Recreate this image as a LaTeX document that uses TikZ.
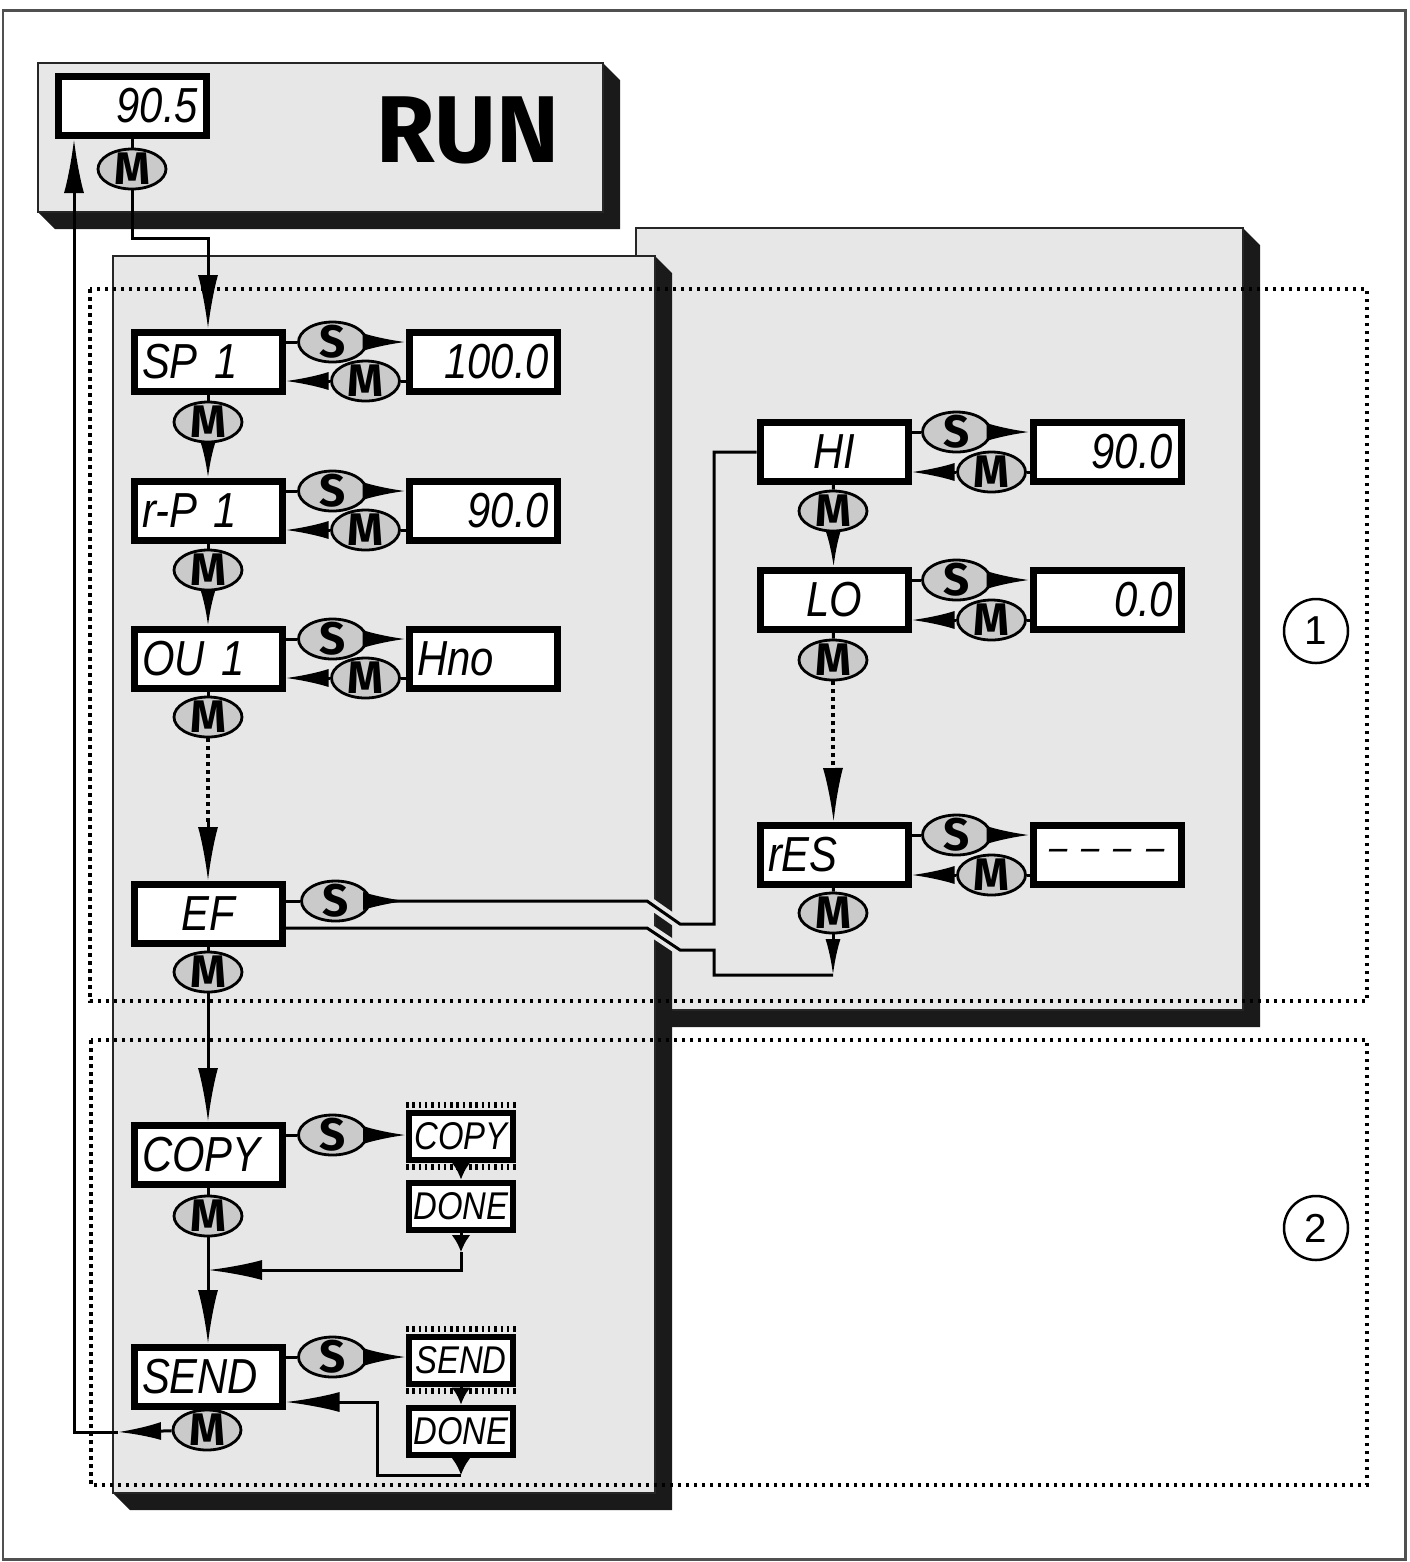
\documentclass[tikz,border=0pt]{standalone}
\usepackage{fontspec}
\usepackage{tikz}
\usetikzlibrary{positioning, shapes.geometric, arrows.meta}
\newfontfamily\lcdfont{Liberation Sans}[FakeStretch=0.85]
\newfontfamily\keyfont{Fira Sans}
\newfontfamily\numfont{Liberation Sans}
\definecolor{panelgray}{RGB}{231,231,231}
\definecolor{keygray}{RGB}{202,202,202}
\definecolor{shadowgray}{RGB}{26,26,26}
\definecolor{framegray}{RGB}{80,80,80}

\begin{document}
\begin{tikzpicture}[
    x=0.1mm, y=-0.1mm,
    line width=0.3mm,
    lcd/.style={draw, line width=0.7mm, fill=white, text width=13.2mm,
                minimum height=5.9mm, inner sep=0.8mm, align=left,
                font=\lcdfont\itshape\fontsize{14}{14}\selectfont},
    lcdval/.style={lcd, align=right},
    lcdmid/.style={lcd, align=center},
    flash/.style={draw, line width=0.6mm, fill=white, minimum width=10.4mm,
                  minimum height=4.7mm, inner sep=0.4mm,
                  font=\lcdfont\itshape\fontsize{11}{11}\selectfont},
    key/.style={ellipse, draw, line width=0.28mm, fill=keygray,
                minimum width=6.8mm, minimum height=4mm,
                text height=3.1mm, text depth=0pt, inner xsep=0pt, inner ysep=-0.7mm,
                font=\keyfont\bfseries\fontsize{13}{13}\selectfont},
    zonenum/.style={circle, draw, line width=0.25mm, minimum size=6.4mm,
                    inner sep=0pt, font=\numfont\fontsize{11.5}{11.5}\selectfont},
    panel/.style={fill=panelgray, draw=black!85, line width=0.25mm},
    shadow/.style={fill=shadowgray},
    dots/.style={line width=0.35mm, dash pattern=on 0.35mm off 0.45mm},
    teeth/.style={line width=0.55mm, dash pattern=on 0.25mm off 0.38mm},
    gap/.style={draw=panelgray, line width=1.1mm},
    wedge/.style={-{Latex[length=4.3mm, width=1.8mm]}},
    drop/.style={-{Latex[length=3.6mm, width=1.5mm]}},
    flow/.style={-{Latex[length=5.4mm, width=2mm]}},
    tick/.style={-{Latex[length=1.7mm, width=1.9mm]}},
  ]
  \useasboundingbox (0,0) rectangle (1409,1562);
  \draw[framegray, line width=0.3mm] (3,10) rectangle (1405,1559);

  % panels
  \fill[shadow] (603,63) -- (620,80) -- (620,229) -- (55,229) -- (38,212) -- cycle;
  \filldraw[panel] (38,63) rectangle (603,212);
  \fill[shadow] (1243,228) -- (1260,245) -- (1260,1027) -- (653,1027) -- (636,1010) -- cycle;
  \filldraw[panel] (636,228) rectangle (1243,1010);
  \fill[shadow] (655,256) -- (672,273) -- (672,1510) -- (130,1510) -- (113,1493) -- cycle;
  \filldraw[panel] (113,256) rectangle (655,1493);

  \draw[dots] (90,289) rectangle (1367,1001);
  \draw[dots] (91,1040) rectangle (1367,1485);
  \node[zonenum] (zone1) at (1316,631) {1};
  \node[zonenum] (zone2) at (1316,1228) {2};

  % RUN
  \node[lcdval] (disp) at (132,106) {90.5};
  \node[font=\keyfont\bfseries\fontsize{27}{27}\selectfont] (run) at (468,130) {RUN};
  \node[key] (runnext) at (132,169) {M};
  \coordinate (runbend) at (132,238);

  % left column
  \node[lcd] (sp1) at (208,362) {SP 1};
  \node[lcdval] (sp1val) at (483,362) {100.0};
  \node[key] (sp1s) at ([xshift=4.7mm, yshift=2mm]sp1.east) {S};
  \node[key] (sp1m) at ([xshift=8mm, yshift=-1.9mm]sp1.east) {M};
  \node[key] (sp1next) at (208,422) {M};

  \node[lcd] (rp1) at (208,511) {r-P 1};
  \node[lcdval] (rp1val) at (483,511) {90.0};
  \node[key] (rp1s) at ([xshift=4.7mm, yshift=2mm]rp1.east) {S};
  \node[key] (rp1m) at ([xshift=8mm, yshift=-1.9mm]rp1.east) {M};
  \node[key] (rp1next) at (208,570) {M};

  \node[lcd] (ou1) at (208,659) {OU 1};
  \node[lcd] (ou1val) at (483,659) {Hno};
  \node[key] (ou1s) at ([xshift=4.7mm, yshift=2mm]ou1.east) {S};
  \node[key] (ou1m) at ([xshift=8mm, yshift=-1.9mm]ou1.east) {M};
  \node[key] (ou1next) at (208,717) {M};
  \coordinate (ou1dots) at (208,822);

  \node[lcdmid] (ef) at (208,914) {EF};
  \node[key] (efs) at ([xshift=5mm, yshift=1.3mm]ef.east) {S};
  \node[key] (efnext) at (208,972) {M};
  \coordinate (efa) at (406,901);
  \coordinate (efb) at (647,901);
  \coordinate (efc) at (680,924);
  \coordinate (efd) at (714,924);
  \coordinate (efe) at (647,928);
  \coordinate (eff) at (680,950);
  \coordinate (efg) at (714,950);
  \coordinate (efh) at (714,975);
  \coordinate (efi) at (833,975);

  \node[lcd] (copy) at (208,1155) {COPY};
  \node[key] (copys) at ([xshift=4.7mm, yshift=2mm]copy.east) {S};
  \node[flash] (copyflash) at (461,1136) {COPY};
  \node[flash] (copydone) at (461,1206) {DONE};
  \node[key] (copynext) at (208,1216) {M};
  \coordinate (copytip) at (461,1252);
  \coordinate (copyback) at (461,1270);

  \node[lcd] (send) at (208,1377) {SEND};
  \node[key] (sends) at ([xshift=4.7mm, yshift=2mm]send.east) {S};
  \node[flash] (sendflash) at (461,1360) {SEND};
  \node[flash] (senddone) at (461,1431) {DONE};
  \node[key] (sendnext) at (207,1430) {M};
  \coordinate (sendtip) at (461,1475);
  \coordinate (sendb) at (377,1475);
  \coordinate (sendc) at (377,1402);
  \coordinate (backa) at (118,1432);
  \coordinate (backb) at (74,1432);

  % right column
  \node[lcdmid] (hi) at (834,452) {HI};
  \node[lcdval] (hival) at (1107,452) {90.0};
  \node[key] (his) at ([xshift=4.5mm, yshift=2mm]hi.east) {S};
  \node[key] (him) at ([xshift=8mm, yshift=-2mm]hi.east) {M};
  \node[key] (hinext) at (833,511) {M};

  \node[lcdmid] (lo) at (834,600) {LO};
  \node[lcdval] (loval) at (1107,600) {0.0};
  \node[key] (los) at ([xshift=4.5mm, yshift=2mm]lo.east) {S};
  \node[key] (lom) at ([xshift=8mm, yshift=-2mm]lo.east) {M};
  \node[key] (lonext) at (833,660) {M};
  \coordinate (lodots) at (833,768);

  \node[lcd] (res) at (834,855) {rES};
  \node[lcdmid] (resval) at (1107,855) {\fontsize{11}{11}\selectfont\mbox{–\hspace{1.4mm}–\hspace{1.4mm}–\hspace{1.4mm}–}};
  \node[key] (ress) at ([xshift=4.5mm, yshift=2mm]res.east) {S};
  \node[key] (resm) at ([xshift=8mm, yshift=-2mm]res.east) {M};
  \node[key] (resnext) at (833,913) {M};

  % connectors
  \draw (disp) -- (runnext);
  \draw[flow] (runnext) -- (runbend) -| (sp1);

  \draw (sp1.east |- sp1s) -- (sp1s);
  \draw[wedge] (sp1s) -- (sp1val.west |- sp1s);
  \draw (sp1val.west |- sp1m) -- (sp1m);
  \draw[wedge] (sp1m) -- (sp1.east |- sp1m);
  \draw (sp1) -- (sp1next);
  \draw[drop] (sp1next) -- (rp1);

  \draw (rp1.east |- rp1s) -- (rp1s);
  \draw[wedge] (rp1s) -- (rp1val.west |- rp1s);
  \draw (rp1val.west |- rp1m) -- (rp1m);
  \draw[wedge] (rp1m) -- (rp1.east |- rp1m);
  \draw (rp1) -- (rp1next);
  \draw[drop] (rp1next) -- (ou1);

  \draw (ou1.east |- ou1s) -- (ou1s);
  \draw[wedge] (ou1s) -- (ou1val.west |- ou1s);
  \draw (ou1val.west |- ou1m) -- (ou1m);
  \draw[wedge] (ou1m) -- (ou1.east |- ou1m);
  \draw (ou1) -- (ou1next);
  \draw[dots] (ou1next) -- (ou1dots);
  \draw[flow] (ou1dots) -- (ef);

  \draw (ef.east |- efs) -- (efs);
  \draw[wedge] (efs) -- (efa);
  \draw[gap] (efb) -- (efc);
  \draw[gap] (efe) -- (eff);
  \draw (efs) -- (efb) -- (efc) -- (efd) |- (hi);
  \draw (efi) -- (efh) -- (efg) -- (eff) -- (efe) -- (ef.east |- efe);
  \draw (ef) -- (efnext);
  \draw[flow] (efnext) -- (copy);

  \draw (hi.east |- his) -- (his);
  \draw[wedge] (his) -- (hival.west |- his);
  \draw (hival.west |- him) -- (him);
  \draw[wedge] (him) -- (hi.east |- him);
  \draw (hi) -- (hinext);
  \draw[drop] (hinext) -- (lo);

  \draw (lo.east |- los) -- (los);
  \draw[wedge] (los) -- (loval.west |- los);
  \draw (loval.west |- lom) -- (lom);
  \draw[wedge] (lom) -- (lo.east |- lom);
  \draw (lo) -- (lonext);
  \draw[dots] (lonext) -- (lodots);
  \draw[flow] (lodots) -- (res);

  \draw (res.east |- ress) -- (ress);
  \draw[wedge] (ress) -- (resval.west |- ress);
  \draw (resval.west |- resm) -- (resm);
  \draw[wedge] (resm) -- (res.east |- resm);
  \draw (res) -- (resnext);
  \draw[drop] (resnext) -- (efi);

  \draw[teeth] ([yshift=0.45mm]copyflash.north west) -- ([yshift=0.45mm]copyflash.north east);
  \draw[teeth] ([yshift=-0.45mm]copyflash.south west) -- ([yshift=-0.45mm]copyflash.south east);
  \draw (copy.east |- copys) -- (copys);
  \draw[wedge] (copys) -- (copyflash.west |- copys);
  \draw[tick] (copyflash) -- (copydone);
  \draw[tick] (copydone) -- (copytip);
  \draw[flow] (copytip) -- (copyback) -- (copyback -| copynext);
  \draw (copy) -- (copynext);
  \draw[flow] (copynext) -- (send);

  \draw[teeth] ([yshift=0.45mm]sendflash.north west) -- ([yshift=0.45mm]sendflash.north east);
  \draw[teeth] ([yshift=-0.45mm]sendflash.south west) -- ([yshift=-0.45mm]sendflash.south east);
  \draw (send.east |- sends) -- (sends);
  \draw[wedge] (sends) -- (sendflash.west |- sends);
  \draw[tick] (sendflash) -- (senddone);
  \draw[tick] (senddone) -- (sendtip);
  \draw[flow] (sendtip) -- (sendb) -- (sendc) -- (send.east |- sendc);
  \draw[wedge] (sendnext) -- (backa);
  \draw[flow] (backa) -- (backb) -- (backb |- disp.south);
\end{tikzpicture}
\end{document}
